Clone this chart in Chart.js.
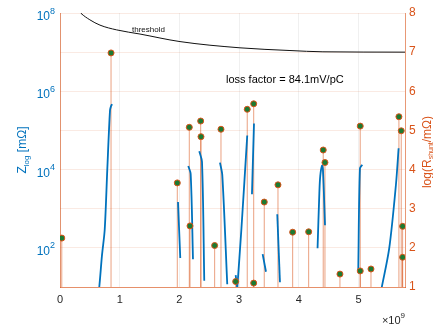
<!DOCTYPE html>
<html><head><meta charset="utf-8">
<script src="https://cdn.jsdelivr.net/npm/chart.js@4/dist/chart.umd.min.js"></script>
<style>html,body{margin:0;padding:0;background:#fff;}#wrap{width:433px;height:329px;}</style>
</head><body><div id="wrap"><canvas id="c" width="433" height="329"></canvas></div>
<script>
// ---- data (frequency in units of 1e9 Hz) ----
const xTicks = [0, 1, 2, 3, 4, 5];
const zTickExps = [1, 2, 3, 4, 5, 6, 7, 8];
const zLabelExps = [2, 4, 6, 8];
const rTicks = [1, 2, 3, 4, 5, 6, 7, 8];

// threshold curve [freq, Z(mOhm)]
const thresholdCurve = [[0.30,1.2e8],[0.352,9.8e7],[0.50,6.7e7],[0.67,4.9e7],[0.95,3.7e7],[1.34,2.9e7],[2.01,1.86e7],[3.015,1.29e7],[3.853,1.1e7],[4.405,1.02e7],[5.78,1.0e7]];

// impedance resonance segments [freq, Z(mOhm)]
const zSegA = [[0.645,8],[0.658,10],[0.704,66],[0.749,290],[0.792,9800],[0.838,3.3e5],[0.856,4.2e5],[0.872,4.7e5]];
const zSegB = [[1.977,1480],[2.015,55]];
const zSegC = [[2.149,12300],[2.189,7800],[2.228,51]];
const zSegD = [[2.333,29500],[2.379,15800],[2.417,14.5]];
const zSegE = [[2.680,15100],[2.719,7200],[2.802,11.7]];
const zSegF0 = [[2.943,20],[2.972,9]];
const zSegF = [[2.970,9.5],[3.04,316],[3.137,74000]];
const zSegG = [[3.216,2340],[3.250,151000]];
const zSegH = [[3.395,69],[3.451,24.5]];
const zSegI = [[3.640,720],[3.685,13.2]];
const zSegJ = [[4.315,98],[4.345,2500],[4.36,6800],[4.39,12600],[4.405,10000],[4.44,380]];
const zSegK = [[4.997,27],[5.025,10700],[5.064,13200]];
const zSegL = [[5.389,9.5],[5.516,98],[5.628,4100],[5.673,35000]];
const zSegments = [zSegA,zSegB,zSegC,zSegD,zSegE,zSegF0,zSegF,zSegG,zSegH,zSegI,zSegJ,zSegK,zSegL];

// shunt resistance stems: frequency and log10(R/mOhm)
const stemFreq = [0.03,0.855,1.965,2.166,2.178,2.357,2.362,2.591,2.697,2.943,3.137,3.245,3.245,3.422,3.652,3.898,4.166,4.41,4.439,4.69,5.03,5.03,5.21,5.678,5.717,5.74,5.74];
const stemLogR = [2.25,6.98,3.66,5.08,2.56,5.24,4.84,2.06,5.03,1.14,5.54,5.68,1.10,3.17,3.61,2.40,2.41,4.50,4.18,1.33,5.11,1.41,1.46,5.35,4.99,2.55,1.76];

// ---- chart ----
const BLUE = '#0072BD', ORANGE = '#D95319';
const FONT = '"Liberation Sans", Arial, sans-serif';
const toXY = a => a.map(p => ({x: p[0], y: p[1]}));

const stemData = [];
stemFreq.forEach((f, i) => { stemData.push({x: f, y: 1}, {x: f, y: stemLogR[i]}, {x: f, y: null}); });
const markerData = stemFreq.map((f, i) => ({x: f, y: stemLogR[i]}));

const datasets = [];
datasets.push({data: markerData, yAxisID: 'y2', showLine: false, pointRadius: 3, pointBorderWidth: 1,
  pointBackgroundColor: '#1C7A32', pointBorderColor: ORANGE});
zSegments.forEach(s => datasets.push({data: toXY(s), yAxisID: 'y', showLine: true, borderColor: BLUE,
  borderWidth: 1.8, pointRadius: 0, tension: 0.3}));
datasets.push({data: stemData, yAxisID: 'y2', showLine: true, spanGaps: false, borderColor: 'rgba(217,83,25,0.55)',
  borderWidth: 1, pointRadius: 0});
datasets.push({data: toXY(thresholdCurve), yAxisID: 'y', showLine: true, borderColor: '#111', borderWidth: 1,
  pointRadius: 0, cubicInterpolationMode: 'monotone'});

function drawRich(ctx, parts, x, y, align) {
  // parts: [text, size, dy]
  let total = 0;
  parts.forEach(p => { ctx.font = p[1] + 'px ' + FONT; p.w = ctx.measureText(p[0]).width; total += p.w; });
  let cx = align === 'center' ? x - total / 2 : (align === 'right' ? x - total : x);
  ctx.textAlign = 'left'; ctx.textBaseline = 'alphabetic';
  parts.forEach(p => { ctx.font = p[1] + 'px ' + FONT; ctx.fillText(p[0], cx, y + p[2]); cx += p.w; });
}

const textPlugin = {
  id: 'texts',
  afterDraw(chart) {
    const ctx = chart.ctx, ys = chart.scales.y, ca = chart.chartArea;
    ctx.save();
    ctx.fillStyle = BLUE;
    zLabelExps.forEach(e => {
      const py = ys.getPixelForValue(Math.pow(10, e));
      drawRich(ctx, [['10', 12, 7], [String(e), 9, 0.5]], ca.left - 5, py, 'right');
    });
    // left title
    ctx.save(); ctx.translate(26, 150); ctx.rotate(-Math.PI / 2);
    drawRich(ctx, [['Z', 12, 0], ['log', 8, 3], [' [m\u03A9]', 12, 0]], 0, 0, 'center');
    ctx.restore();
    // right title
    ctx.fillStyle = ORANGE;
    ctx.save(); ctx.translate(431, 152); ctx.rotate(-Math.PI / 2);
    drawRich(ctx, [['log(R', 12, 0], ['shunt', 7, 2], ['/m\u03A9)', 12, 0]], 0, 0, 'center');
    ctx.restore();
    // x multiplier
    ctx.fillStyle = '#262626';
    drawRich(ctx, [['\u00D710', 11, 0], ['9', 8, -6]], ca.right, 324, 'right');
    // annotations
    ctx.fillStyle = '#000';
    drawRich(ctx, [['loss factor = 84.1mV/pC', 11, 0]], 226, 82.5, 'left');
    ctx.fillStyle = '#111';
    drawRich(ctx, [['threshold', 8, 0]], 132, 32, 'left');
    ctx.restore();
  }
};

new Chart(document.getElementById('c'), {
  type: 'scatter',
  data: {datasets},
  options: {
    responsive: false, animation: false, devicePixelRatio: 1,
    layout: {padding: {top: 13, left: 0, right: 0, bottom: 0}},
    plugins: {legend: {display: false}, tooltip: {enabled: false}},
    scales: {
      x: {type: 'linear', min: 0, max: 5.78,
        afterBuildTicks: s => { s.ticks = xTicks.map(v => ({value: v})); },
        afterFit: s => { s.height = 42; },
        grid: {color: 'rgba(0,0,0,0.06)', drawTicks: false},
        border: {color: 'rgba(217,83,25,0.6)'},
        ticks: {color: '#262626', font: {size: 11, family: FONT}, padding: 6, maxRotation: 0,
          callback: v => String(v)}},
      y: {type: 'logarithmic', position: 'left', min: 10, max: 1e8,
        afterBuildTicks: s => { s.ticks = zTickExps.map(e => ({value: Math.pow(10, e)})); },
        afterFit: s => { s.width = 60; },
        grid: {display: false},
        border: {color: 'rgba(217,83,25,0.6)'},
        ticks: {display: false}},
      y2: {type: 'linear', position: 'right', min: 1, max: 8,
        afterBuildTicks: s => { s.ticks = rTicks.map(v => ({value: v})); },
        afterFit: s => { s.width = 28; },
        grid: {color: 'rgba(217,83,25,0.12)', drawTicks: false},
        border: {color: 'rgba(217,83,25,0.6)'},
        ticks: {color: ORANGE, font: {size: 12, family: FONT}, padding: 4}}
    }
  },
  plugins: [textPlugin]
});
</script></body></html>
